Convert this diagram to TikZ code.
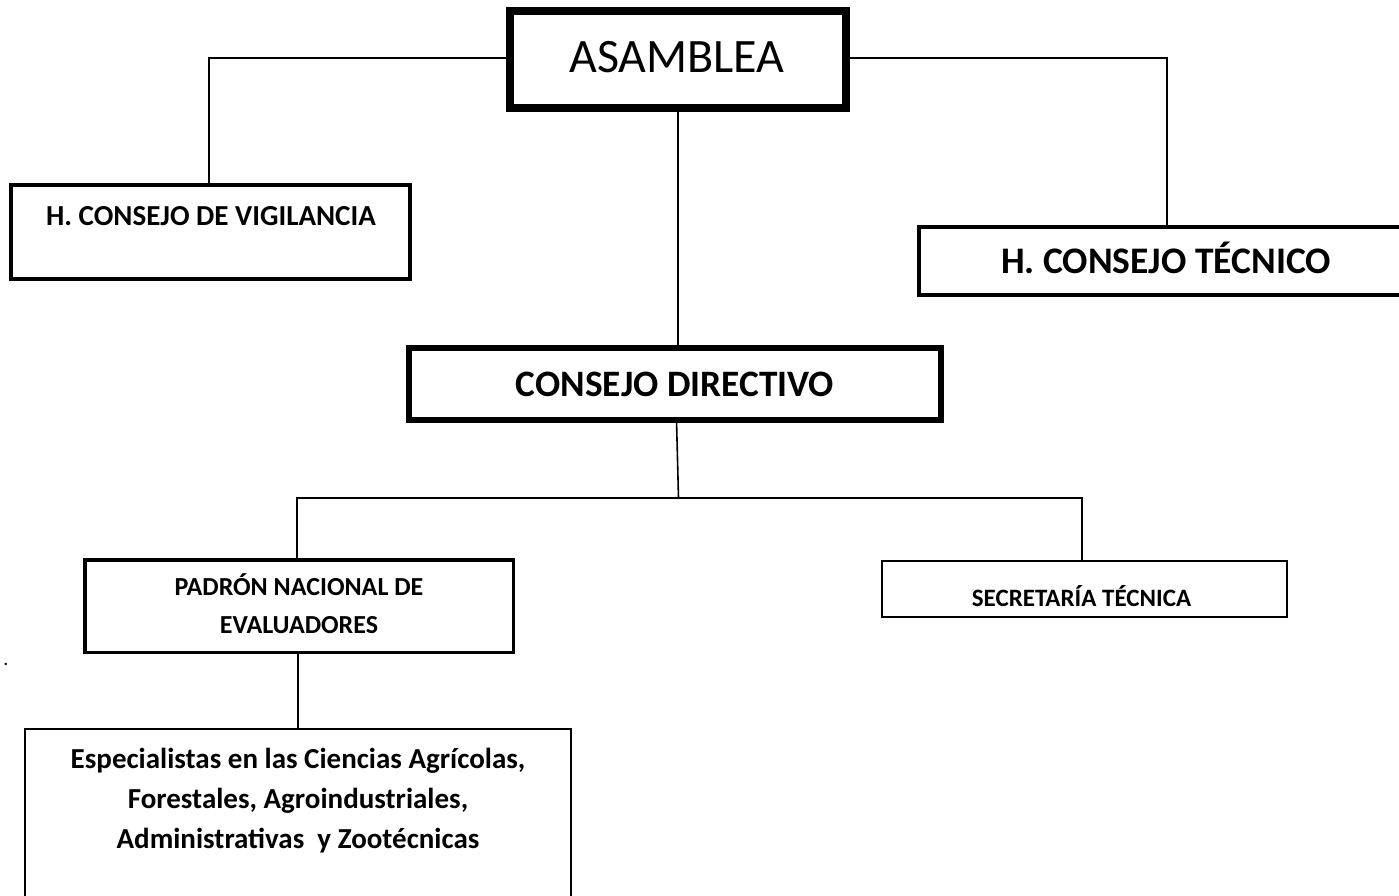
\documentclass[tikz,border=0pt]{standalone}
\usepackage{fontspec}
\setmainfont{Carlito}
\begin{document}
\begin{tikzpicture}[x=1pt,y=-1pt,
  box/.style={draw=black,fill=white,rectangle,inner sep=0pt,outer sep=0pt},
  lbl/.style={inner sep=0pt,outer sep=0pt,anchor=base,align=center},
  conn/.style={draw=black,line width=1.6pt}]
\useasboundingbox[fill=white] (0,0) rectangle (1399,895);
\clip (0,0) rectangle (1399,895);
% boxes
\node[box,line width=8pt,minimum width=336pt,minimum height=97pt] (asam) at (678,59.5) {};
\node[box,line width=4pt,minimum width=399pt,minimum height=94pt] (vig) at (210.5,232) {};
\node[box,line width=4pt,minimum width=496pt,minimum height=68pt] (tec) at (1167,261) {};
\node[box,line width=6pt,minimum width=532pt,minimum height=72pt] (cd) at (675,384) {};
\node[box,line width=3.5pt,minimum width=428.5pt,minimum height=92.5pt] (pad) at (299,606) {};
\node[box,line width=2pt,minimum width=405pt,minimum height=56pt] (sec) at (1084.5,589) {};
\node[box,line width=1.6pt,minimum width=546pt,minimum height=174pt] (esp) at (298,816) {};
% texts
\node[lbl,font=\fontsize{48}{58}\selectfont] (tasam) at (677,72) {ASAMBLEA};
\node[lbl,font=\fontsize{29}{35}\selectfont\bfseries] (tvig) at (211,225) {H. CONSEJO DE VIGILANCIA};
\node[lbl,font=\fontsize{37.5}{45}\selectfont\bfseries] (ttec) at (1166,273) {H. CONSEJO TÉCNICO};
\node[lbl,font=\fontsize{37.3}{45}\selectfont\bfseries] (tcd) at (675,396) {CONSEJO DIRECTIVO};
\node[lbl,font=\fontsize{26}{38}\selectfont\bfseries] (tpad) at (299,633) {PADRÓN NACIONAL DE\\EVALUADORES};
\node[lbl,font=\fontsize{25}{30}\selectfont\bfseries] (tsec) at (1081.5,606) {SECRETARÍA TÉCNICA};
\node[lbl,font=\fontsize{29}{40}\selectfont\bfseries] (tesp) at (298,848) {Especialistas en las Ciencias Agrícolas,\\Forestales, Agroindustriales,\\Administrativas\ \ y Zootécnicas};
\node[lbl,font=\fontsize{20}{24}\selectfont] (dot) at (6,665) {.};
% connectors
\coordinate (hub) at (678.5,498);
\draw[conn] ([yshift=1.5pt]asam.west) -| ([xshift=-1.5pt]vig.north);
\draw[conn] ([yshift=1.5pt]asam.east) -| (tec.north);
\draw[conn] (asam.south) -- (asam.south |- cd.north);
\draw[conn] ([xshift=1.5pt]cd.south) -- (hub);
\draw[conn] ([xshift=-2pt]pad.north) |- (hub) -| ([xshift=-2.5pt]sec.north);
\draw[black,line width=2.6pt] (560,498) -- (670,498);
\draw[conn] ([xshift=-1pt]pad.south) -- ([xshift=-1pt]pad.south |- esp.north);
\end{tikzpicture}
\end{document}
